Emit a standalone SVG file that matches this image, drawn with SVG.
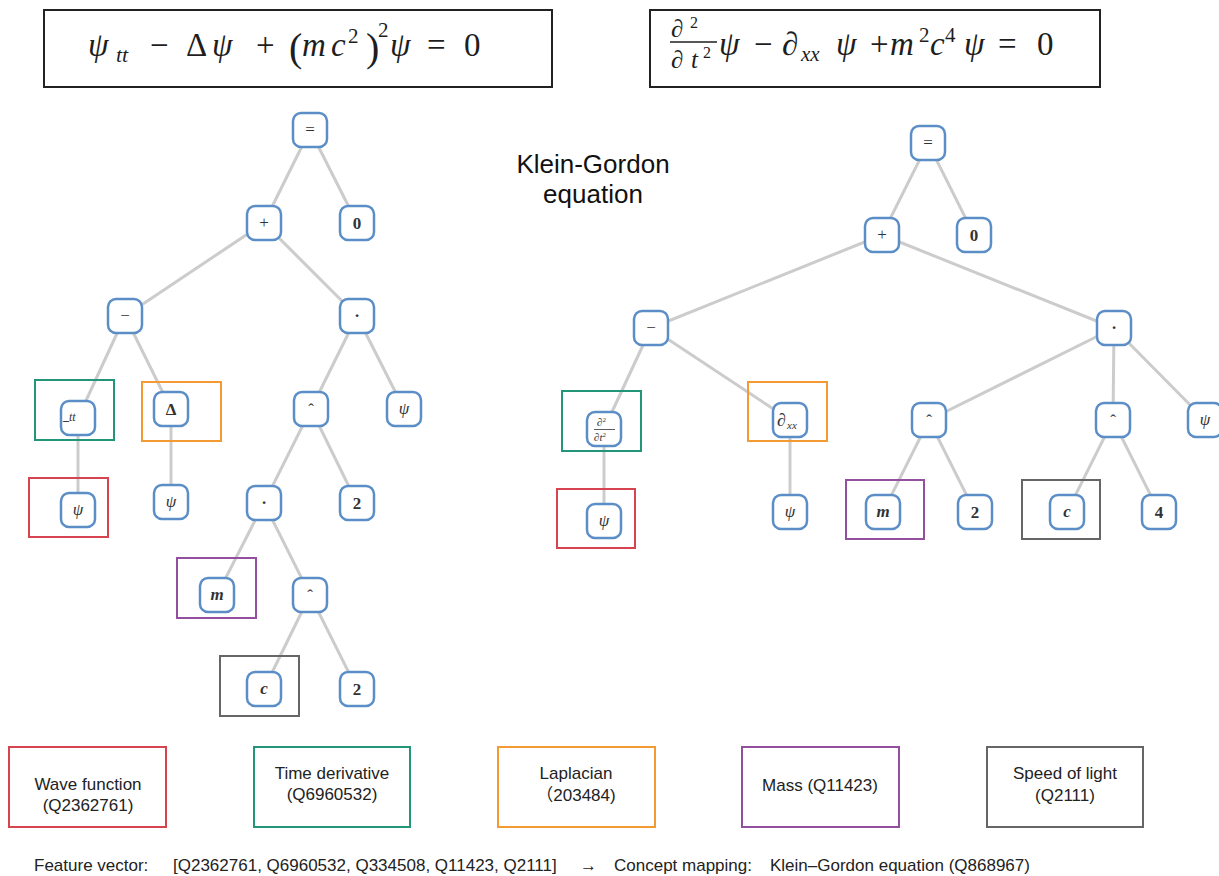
<svg xmlns="http://www.w3.org/2000/svg" width="1219" height="876" viewBox="0 0 1219 876">
<style>
.bg{fill:#ffffff}
.nb{fill:#ffffff;stroke:#5b8ec6;stroke-width:2.5}
.e{stroke:#cccccc;stroke-width:3;fill:none}
.hl{fill:none;stroke-width:2}
.red{stroke:#d6444f}
.grn{stroke:#23967a}
.org{stroke:#f39a33}
.pur{stroke:#93509e}
.gry{stroke:#666666}
.fb{fill:none;stroke:#222222;stroke-width:2}
.m{font-family:"Liberation Serif","DejaVu Serif",serif;fill:#333333}
.f{font-family:"Liberation Serif","DejaVu Serif",serif;fill:#1e1e1e;font-size:33px}
.nl{font-size:17px;text-anchor:middle}
.i{font-style:italic}
.b{font-weight:bold}
.lg{font-family:"Liberation Sans",Arial,"Noto Sans CJK SC",sans-serif;font-size:17px;fill:#222222;text-anchor:middle}
.ft{font-family:"Liberation Sans",Arial,sans-serif;font-size:17px;fill:#222222}
.kg{font-family:"Liberation Sans",Arial,sans-serif;font-size:26px;fill:#111111;text-anchor:middle}
</style>
<rect class="bg" x="0" y="0" width="1219" height="876"/>

<!-- formula boxes -->
<g id="formula_left">
<rect class="fb" x="44" y="10" width="508" height="77"/>
<text class="f"><tspan class="i" x="88" y="56">ψ</tspan><tspan class="i" x="116" y="62" font-size="22">tt</tspan><tspan x="150" y="56">−</tspan><tspan x="186" y="56">Δ</tspan><tspan class="i" x="212" y="56">ψ</tspan><tspan x="256" y="56">+</tspan><tspan x="289" y="61" font-size="40">(</tspan><tspan class="i" x="302" y="56">m</tspan><tspan class="i" x="331" y="56">c</tspan><tspan x="348" y="43" font-size="21">2</tspan><tspan x="366" y="61" font-size="40">)</tspan><tspan x="378" y="37" font-size="21">2</tspan><tspan class="i" x="390" y="56">ψ</tspan><tspan x="427" y="56">=</tspan><tspan x="464" y="56">0</tspan></text>
</g>
<g id="formula_right">
<rect class="fb" x="650" y="10" width="450" height="77"/>
<text class="f"><tspan class="i" x="671" y="37" font-size="25">∂</tspan><tspan x="690" y="28" font-size="16">2</tspan><tspan class="i" x="671" y="68" font-size="25">∂</tspan><tspan class="i" x="691" y="68" font-size="25">t</tspan><tspan x="703" y="58" font-size="16">2</tspan><tspan class="i" x="719" y="55">ψ</tspan><tspan x="754" y="55">−</tspan><tspan class="i" x="782" y="55">∂</tspan><tspan class="i" x="801" y="61" font-size="21">xx</tspan><tspan class="i" x="836" y="55">ψ</tspan><tspan x="870" y="55">+</tspan><tspan class="i" x="890" y="55">m</tspan><tspan x="919" y="42" font-size="21">2</tspan><tspan class="i" x="930" y="55">c</tspan><tspan x="945" y="42" font-size="21">4</tspan><tspan class="i" x="964" y="55">ψ</tspan><tspan x="998" y="55">=</tspan><tspan x="1037" y="55">0</tspan></text>
<line x1="670" y1="42" x2="717" y2="42" stroke="#1e1e1e" stroke-width="1.5"/>
</g>

<text class="kg" x="593" y="173">Klein-Gordon</text>
<text class="kg" x="593" y="203">equation</text>

<!-- connectors -->
<g id="connectors">
<line class="e" x1="310" y1="130" x2="264" y2="223"/>
<line class="e" x1="310" y1="130" x2="357" y2="223"/>
<line class="e" x1="264" y1="223" x2="125" y2="316"/>
<line class="e" x1="264" y1="223" x2="357" y2="316"/>
<line class="e" x1="125" y1="316" x2="78" y2="418"/>
<line class="e" x1="125" y1="316" x2="171" y2="409"/>
<line class="e" x1="78" y1="418" x2="78" y2="510"/>
<line class="e" x1="171" y1="409" x2="171" y2="502"/>
<line class="e" x1="357" y1="316" x2="311" y2="409"/>
<line class="e" x1="357" y1="316" x2="404" y2="409"/>
<line class="e" x1="311" y1="409" x2="264" y2="503"/>
<line class="e" x1="311" y1="409" x2="357" y2="503"/>
<line class="e" x1="264" y1="503" x2="217" y2="595"/>
<line class="e" x1="264" y1="503" x2="310" y2="595"/>
<line class="e" x1="310" y1="595" x2="264" y2="689"/>
<line class="e" x1="310" y1="595" x2="357" y2="689"/>

<line class="e" x1="928" y1="143" x2="882" y2="235"/>
<line class="e" x1="928" y1="143" x2="974" y2="235"/>
<line class="e" x1="882" y1="235" x2="651" y2="328"/>
<line class="e" x1="882" y1="235" x2="1114" y2="328"/>
<line class="e" x1="651" y1="328" x2="604" y2="429"/>
<line class="e" x1="651" y1="328" x2="790" y2="420"/>
<line class="e" x1="604" y1="429" x2="604" y2="521"/>
<line class="e" x1="790" y1="420" x2="790" y2="512"/>
<line class="e" x1="1114" y1="328" x2="929" y2="420"/>
<line class="e" x1="1114" y1="328" x2="1113" y2="420"/>
<line class="e" x1="1114" y1="328" x2="1205" y2="420"/>
<line class="e" x1="929" y1="420" x2="883" y2="512"/>
<line class="e" x1="929" y1="420" x2="975" y2="512"/>
<line class="e" x1="1113" y1="420" x2="1067" y2="512"/>
<line class="e" x1="1113" y1="420" x2="1159" y2="512"/>
</g>

<!-- concept highlight boxes -->
<g id="highlights">
<rect class="hl grn" x="35" y="380" width="79" height="60"/>
<rect class="hl org" x="142" y="382" width="79" height="59"/>
<rect class="hl red" x="29" y="478" width="79" height="59"/>
<rect class="hl pur" x="177" y="558" width="79" height="60"/>
<rect class="hl gry" x="220" y="656" width="79" height="60"/>
<rect class="hl grn" x="562" y="391" width="79" height="60"/>
<rect class="hl org" x="748" y="382" width="79" height="59"/>
<rect class="hl red" x="557" y="489" width="78" height="59"/>
<rect class="hl pur" x="846" y="480" width="78" height="59"/>
<rect class="hl gry" x="1022" y="480" width="78" height="59"/>
</g>

<!-- left tree nodes -->
<g id="L_eq"><rect class="nb" x="293" y="113" width="34" height="34" rx="8"/><text class="m nl" x="310" y="135">=</text></g>
<g id="L_plus"><rect class="nb" x="247" y="206" width="34" height="34" rx="8"/><text class="m nl" x="264" y="228">+</text></g>
<g id="L_zero"><rect class="nb" x="340" y="206" width="34" height="34" rx="8"/><text class="m nl b" x="357" y="229">0</text></g>
<g id="L_minus"><rect class="nb" x="108" y="299" width="34" height="34" rx="8"/><text class="m nl" x="125" y="321">−</text></g>
<g id="L_dot1"><rect class="nb" x="340" y="299" width="34" height="34" rx="8"/><text class="m nl b" x="357" y="321">·</text></g>
<g id="L_tt"><rect class="nb" x="61" y="401" width="34" height="34" rx="8"/><text class="m" x="63" y="420" font-size="12" font-weight="bold">_</text><text class="m i" x="69" y="421" font-size="12">tt</text></g>
<g id="L_delta"><rect class="nb" x="154" y="392" width="34" height="34" rx="8"/><text class="m nl b" x="171" y="415">Δ</text></g>
<g id="L_psi1"><rect class="nb" x="61" y="493" width="34" height="34" rx="8"/><text class="m nl i" x="78" y="515">ψ</text></g>
<g id="L_psi2"><rect class="nb" x="154" y="485" width="34" height="34" rx="8"/><text class="m nl i" x="171" y="507">ψ</text></g>
<g id="L_pow1"><rect class="nb" x="294" y="392" width="34" height="34" rx="8"/><text class="m nl" x="311" y="415">ˆ</text></g>
<g id="L_psi3"><rect class="nb" x="387" y="392" width="34" height="34" rx="8"/><text class="m nl i" x="404" y="414">ψ</text></g>
<g id="L_dot2"><rect class="nb" x="247" y="486" width="34" height="34" rx="8"/><text class="m nl b" x="264" y="508">·</text></g>
<g id="L_two1"><rect class="nb" x="340" y="486" width="34" height="34" rx="8"/><text class="m nl b" x="357" y="509">2</text></g>
<g id="L_m"><rect class="nb" x="200" y="578" width="34" height="34" rx="8"/><text class="m nl i b" x="217" y="600">m</text></g>
<g id="L_pow2"><rect class="nb" x="293" y="578" width="34" height="34" rx="8"/><text class="m nl" x="310" y="601">ˆ</text></g>
<g id="L_c"><rect class="nb" x="247" y="672" width="34" height="34" rx="8"/><text class="m nl i b" x="264" y="694">c</text></g>
<g id="L_two2"><rect class="nb" x="340" y="672" width="34" height="34" rx="8"/><text class="m nl b" x="357" y="695">2</text></g>

<!-- right tree nodes -->
<g id="R_eq"><rect class="nb" x="911" y="126" width="34" height="34" rx="8"/><text class="m nl" x="928" y="148">=</text></g>
<g id="R_plus"><rect class="nb" x="865" y="218" width="34" height="34" rx="8"/><text class="m nl" x="882" y="240">+</text></g>
<g id="R_zero"><rect class="nb" x="957" y="218" width="34" height="34" rx="8"/><text class="m nl b" x="974" y="241">0</text></g>
<g id="R_minus"><rect class="nb" x="634" y="311" width="34" height="34" rx="8"/><text class="m nl" x="651" y="333">−</text></g>
<g id="R_dot"><rect class="nb" x="1097" y="311" width="34" height="34" rx="8"/><text class="m nl b" x="1114" y="333">·</text></g>
<g id="R_dt"><rect class="nb" x="587" y="412" width="34" height="34" rx="8"/><text class="m i" x="597" y="426" font-size="11">∂<tspan font-style="normal" font-size="7" dy="-4">2</tspan></text><line x1="594" y1="429.5" x2="615" y2="429.5" stroke="#333" stroke-width="0.8"/><text class="m i" x="594" y="441" font-size="11">∂t<tspan font-style="normal" font-size="7" dy="-4">2</tspan></text></g>
<g id="R_dxx"><rect class="nb" x="773" y="403" width="34" height="34" rx="8"/><text class="m i" x="777" y="426" font-size="18">∂</text><text class="m i" x="787" y="429" font-size="11">xx</text></g>
<g id="R_psi1"><rect class="nb" x="587" y="504" width="34" height="34" rx="8"/><text class="m nl i" x="604" y="526">ψ</text></g>
<g id="R_psi2"><rect class="nb" x="773" y="495" width="34" height="34" rx="8"/><text class="m nl i" x="790" y="517">ψ</text></g>
<g id="R_pow1"><rect class="nb" x="912" y="403" width="34" height="34" rx="8"/><text class="m nl" x="929" y="426">ˆ</text></g>
<g id="R_pow2"><rect class="nb" x="1096" y="403" width="34" height="34" rx="8"/><text class="m nl" x="1113" y="426">ˆ</text></g>
<g id="R_psi3"><rect class="nb" x="1188" y="403" width="34" height="34" rx="8"/><text class="m nl i" x="1205" y="425">ψ</text></g>
<g id="R_m"><rect class="nb" x="866" y="495" width="34" height="34" rx="8"/><text class="m nl i b" x="883" y="517">m</text></g>
<g id="R_two"><rect class="nb" x="958" y="495" width="34" height="34" rx="8"/><text class="m nl b" x="975" y="518">2</text></g>
<g id="R_c"><rect class="nb" x="1050" y="495" width="34" height="34" rx="8"/><text class="m nl i b" x="1067" y="517">c</text></g>
<g id="R_four"><rect class="nb" x="1142" y="495" width="34" height="34" rx="8"/><text class="m nl b" x="1159" y="518">4</text></g>

<!-- legend -->
<g id="legend_wave"><rect class="hl red" x="9" y="747" width="157" height="80"/><text class="lg" x="88" y="790">Wave function</text><text class="lg" x="88" y="811">(Q2362761)</text></g>
<g id="legend_time"><rect class="hl grn" x="254" y="747" width="156" height="80"/><text class="lg" x="332" y="779">Time derivative</text><text class="lg" x="332" y="800">(Q6960532)</text></g>
<g id="legend_lap"><rect class="hl org" x="498" y="747" width="157" height="80"/><text class="lg" x="576" y="779">Laplacian</text><text class="lg" x="576" y="801">（203484)</text></g>
<g id="legend_mass"><rect class="hl pur" x="742" y="747" width="157" height="80"/><text class="lg" x="820" y="791">Mass (Q11423)</text></g>
<g id="legend_light"><rect class="hl gry" x="987" y="747" width="156" height="80"/><text class="lg" x="1065" y="779">Speed of light</text><text class="lg" x="1065" y="801">(Q2111)</text></g>

<text class="ft" x="34" y="871">Feature vector:</text>
<text class="ft" x="173" y="871">[Q2362761, Q6960532, Q334508, Q11423, Q2111]</text>
<text class="ft" x="580" y="871">→</text>
<text class="ft" x="614" y="871">Concept mapping:</text>
<text class="ft" x="770" y="871">Klein–Gordon equation (Q868967)</text>
</svg>
